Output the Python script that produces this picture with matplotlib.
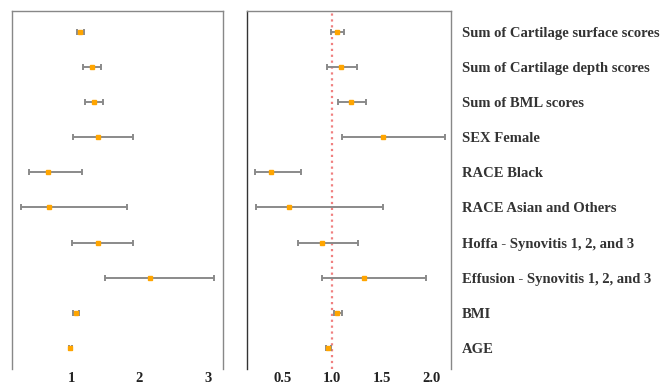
import matplotlib
matplotlib.use('Agg')
import matplotlib.pyplot as plt
import numpy as np

labels = ['Sum of Cartilage surface scores', 'Sum of Cartilage depth scores',
          'Sum of BML scores', 'SEX Female', 'RACE Black',
          'RACE Asian and Others', 'Hoffa - Synovitis 1, 2, and 3',
          'Effusion - Synovitis 1, 2, and 3', 'BMI', 'AGE']

# left panel: estimate, lower, upper
left_est = [1.136, 1.308, 1.333, 1.39, 0.667, 0.677, 1.39, 2.158, 1.078, 0.99]
left_lo = [1.088, 1.176, 1.21, 1.025, 0.384, 0.262, 1.02, 1.503, 1.034, 0.966]
left_hi = [1.19, 1.444, 1.465, 1.90, 1.161, 1.817, 1.91, 3.087, 1.113, 1.015]

# right panel: estimate, lower, upper
right_est = [1.05, 1.088, 1.19, 1.515, 0.381, 0.566, 0.902, 1.32, 1.054, 0.963]
right_lo = [0.987, 0.953, 1.057, 1.098, 0.222, 0.232, 0.657, 0.902, 1.023, 0.942]
right_hi = [1.125, 1.249, 1.346, 2.14, 0.687, 1.515, 1.266, 1.943, 1.098, 0.99]

plt.rcParams['font.family'] = ['Liberation Serif', 'DejaVu Serif']
plt.rcParams['font.weight'] = 'bold'

fig = plt.figure(figsize=(6.65, 3.84), dpi=100)
W, H = 665, 384
bot = (H - 369) / H
hgt = (369 - 10.7) / H
ax1 = fig.add_axes([11.7 / W, bot, (222.7 - 11.7) / W, hgt])
ax2 = fig.add_axes([246.7 / W, bot, (451 - 246.7) / W, hgt])

y = np.arange(len(labels))


def draw(ax, est, lo, hi):
    est = np.array(est)
    err = [est - np.array(lo), np.array(hi) - est]
    ax.errorbar(est, y, xerr=err, fmt='none', ecolor='#8a8a8a',
                elinewidth=1.4, capsize=2.4, capthick=1.4)
    ax.plot(est, y, 's', color='#ffa500', markersize=2.2, zorder=3)
    ax.set_ylim(9.6, -0.6)
    ax.tick_params(axis='both', length=0, labelsize=10.5, colors='#222222')
    ax.tick_params(axis='x', pad=2)
    ax.spines['bottom'].set_visible(False)
    for s in ['top', 'left', 'right']:
        ax.spines[s].set_color('#888888')
        ax.spines[s].set_linewidth(1.0)


draw(ax1, left_est, left_lo, left_hi)
ax1.set_xlim(0.13, 3.22)
ax1.set_xticks([1, 2, 3])
ax1.set_yticks([])

draw(ax2, right_est, right_lo, right_hi)
ax2.axvline(1.0, color='#f08080', linestyle=':', linewidth=1.6, zorder=1)
ax2.set_xlim(0.138, 2.20)
ax2.set_xticks([0.5, 1.0, 1.5, 2.0])
ax2.set_xticklabels(['0.5', '1.0', '1.5', '2.0'])
ax2.spines['left'].set_color('#333333')
ax2.yaxis.tick_right()
ax2.set_yticks(y)
ax2.set_yticklabels(labels, fontsize=10.5, color='#333333')
ax2.tick_params(axis='y', pad=8)

fig.savefig('out.png', dpi=100)
